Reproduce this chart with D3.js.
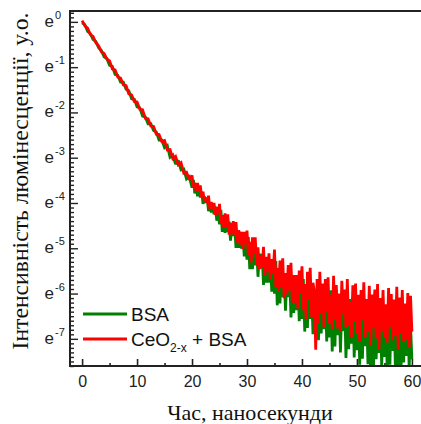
<!DOCTYPE html>
<html lang="uk">
<head>
  <meta charset="UTF-8">
  <title>Luminescence decay</title>
  <script src="https://d3js.org/d3.v7.min.js"></script>
  <style>
    body { margin: 0; background: #fff; }
    svg { display: block; }
  </style>
</head>
<body>
<div id="chart"></div>

<script>
// time grid, ns: every 0.5 ns up to 20 ns, then every 0.25 ns (noisy tail)
var timeNs = d3.range(0, 20, 0.5).concat(d3.range(20, 60.01, 0.25));

// ln(intensity), BSA
var lnBSA = [
  -0.02, -0.06, -0.21, -0.26, -0.39, -0.43, -0.57, -0.63, -0.77, -0.81,
  -0.96, -0.98, -1.16, -1.18, -1.33, -1.33, -1.49, -1.52, -1.70, -1.71,
  -1.88, -1.90, -2.08, -2.10, -2.25, -2.25, -2.40, -2.43, -2.61, -2.61,
  -2.78, -2.73, -2.99, -2.94, -3.14, -3.06, -3.27, -3.25, -3.47, -3.42,
  -3.66, -3.49, -3.79, -3.62,  -3.85, -3.64, -3.88, -3.75,
  -4.02, -3.85, -4.00, -3.89,  -4.18, -4.04, -4.21, -4.02,
  -4.25, -4.08, -4.39, -4.23,  -4.47, -4.15, -4.64, -4.32,
  -4.66, -4.27, -4.64, -4.41,  -4.83, -4.51, -4.73, -4.53,
  -4.99, -4.72, -4.99, -4.64,  -5.01, -4.69, -5.18, -4.90,
  -5.25, -4.75, -5.46, -4.96,  -5.46, -4.85, -5.38, -5.03,
  -5.63, -5.12, -5.45, -5.12,  -5.81, -5.37, -5.76, -5.23,
  -5.76, -5.25, -5.96, -5.53,  -6.00, -5.28, -6.26, -5.54,
  -6.22, -5.35, -6.08, -5.55,  -6.38, -5.66, -6.08, -5.61,
  -6.53, -5.90, -6.43, -5.65,  -6.37, -5.64, -6.61, -5.98,
  -6.56, -5.68, -6.84, -5.96,  -6.76, -5.70, -6.56, -5.92,
  -6.90, -6.02, -6.52, -5.93,  -7.03, -6.26, -6.88, -5.93,
  -6.79, -5.90, -7.06, -6.29,  -6.97, -5.93, -7.28, -6.24,
  -7.17, -5.92, -6.92, -6.16,  -7.30, -6.26, -6.83, -6.14,
  -7.42, -6.52, -7.23, -6.12,  -7.11, -6.07, -7.41, -6.51,
  -7.25, -6.13, -7.57, -6.45,  -7.44, -6.10, -7.16, -6.34,
  -7.56, -6.44, -7.79, -6.30,  -7.66, -6.69, -7.45, -6.25,
  -7.31, -6.18, -7.62, -6.64,  -7.40, -6.27, -7.70, -6.58,
  -7.57, -6.22, -7.27, -6.45,  -7.66, -6.53, -7.81, -6.39,
  -7.74, -6.76, -7.52, -6.32,  -7.38, -6.25, -7.68, -6.70,
  -7.45
];

// ln(intensity), CeO2-x + BSA
var lnCeO2BSA = [
   0.03, -0.09, -0.14, -0.28, -0.32, -0.46, -0.53, -0.66, -0.70, -0.82,
  -0.86, -1.04, -1.06, -1.22, -1.24, -1.39, -1.41, -1.59, -1.61, -1.76,
  -1.77, -1.93, -1.94, -2.13, -2.14, -2.30, -2.31, -2.48, -2.49, -2.64,
  -2.62, -2.83, -2.82, -3.02, -2.97, -3.16, -3.11, -3.34, -3.32, -3.49,
  -3.39, -3.64, -3.55, -3.75,  -3.56, -3.73, -3.61, -3.87,
  -3.75, -3.97, -3.88, -4.00,  -3.84, -4.13, -3.98, -4.14,
  -4.00, -4.26, -4.09, -4.25,  -4.02, -4.46, -4.27, -4.55,
  -4.23, -4.54, -4.25, -4.70,  -4.44, -4.69, -4.40, -4.70,
  -4.42, -4.87, -4.60, -4.92,  -4.64, -5.02, -4.64, -4.91,
  -4.61, -5.15, -4.86, -5.31,  -4.76, -5.11, -4.76, -5.37,
  -4.98, -5.46, -5.17, -5.42,  -4.97, -5.61, -5.19, -5.50,
  -5.11, -5.69, -5.24, -5.55,  -5.03, -5.86, -5.44, -5.96,
  -5.27, -5.87, -5.22, -6.10,  -5.55, -6.02, -5.37, -5.93,
  -5.32, -6.20, -5.59, -6.20,  -5.59, -6.33, -5.49, -6.01,
  -5.40, -6.37, -5.79, -6.58,  -5.52, -6.13, -5.43, -6.52,
  -5.76, -5.95, -7.24, -5.68,  -6.65, -5.52, -6.43, -5.78,
  -6.75, -5.68, -6.41, -5.64,  -6.67, -6.02, -6.80, -5.61,
  -6.58, -5.81, -6.77, -6.00,  -6.85, -5.72, -6.44, -5.91,
  -6.76, -5.68, -6.71, -6.17,  -6.96, -5.82, -6.61, -5.78,
  -6.87, -6.03, -7.06, -5.92,  -6.59, -5.75, -6.96, -6.12,
  -6.85, -5.83, -7.16, -6.02,  -6.75, -5.91, -6.99, -5.79,
  -7.24, -6.10, -6.82, -5.92,  -6.96, -6.24, -7.08, -5.88,
  -6.73, -6.01, -7.03, -6.13,  -6.93, -5.85, -7.23, -6.09,
  -6.88, -5.92, -7.06, -6.22,  -7.01, -5.99, -7.19, -6.05,
  -6.84
];

var xTicks = [0, 10, 20, 30, 40, 50, 60];
var yTicks = [0, -1, -2, -3, -4, -5, -6, -7];   // powers of e
var seriesNames = ["BSA", "CeO2-x + BSA"];
var seriesColors = ["#008000", "#ff0000"];

/* ====== SIZES ====== */
var W = 421, H = 424;
var mLeft = 70, mTop = 11, mRight = 424, mBottom = 366;

var svg = d3.select("#chart")
  .append("svg")
    .attr("width", W)
    .attr("height", H);

/* ====== SCALES ====== */
var x = d3.scaleLinear().domain([-2.2, 62.2]).range([mLeft, mRight]);
var y = d3.scaleLinear().domain([-7.6, 0.24]).range([mBottom, mTop]);

svg.append("clipPath").attr("id", "plotClip")
  .append("rect")
    .attr("x", mLeft).attr("y", mTop)
    .attr("width", mRight - mLeft).attr("height", mBottom - mTop);

/* ====== DATA LINES ====== */
var line = d3.line()
  .x(function(d) { return x(d[0]); })
  .y(function(d) { return y(d[1]); });

var plot = svg.append("g").attr("clip-path", "url(#plotClip)");

[lnBSA, lnCeO2BSA].forEach(function(vals, i) {
  plot.append("path")
    .datum(timeNs.map(function(t, j) { return [t, vals[j]]; }))
    .attr("fill", "none")
    .attr("stroke", seriesColors[i])
    .attr("stroke-width", 2.8)
    .attr("stroke-linejoin", "miter")
    .attr("stroke-miterlimit", 2)
    .attr("d", line);
});

/* ====== AXES ====== */
var axisColor = "#222";

// x axis, ticks pointing inward
var gx = svg.append("g").attr("transform", "translate(0," + mBottom + ")");
gx.append("g").call(d3.axisTop(x).tickValues(d3.range(5, 60, 10)).tickSize(3).tickFormat(""));
gx.append("g").call(d3.axisTop(x).tickValues(xTicks).tickSize(7).tickFormat(""));
gx.selectAll("path.domain").remove();
gx.selectAll("line").attr("stroke", axisColor).attr("stroke-width", 1.6);

svg.append("g")
  .attr("transform", "translate(0," + mBottom + ")")
  .call(d3.axisBottom(x).tickValues(xTicks).tickSize(0).tickPadding(10))
  .call(function(g) {
    g.select(".domain").remove();
    g.selectAll("text")
      .attr("fill", "#222")
      .style("font-family", "'Liberation Sans', Arial, sans-serif")
      .style("font-size", "16px");
  });

// y axis, ticks pointing inward
var minorY = d3.range(-76, 3).map(function(v) { return v / 10; })
  .filter(function(v) { return Math.abs(v - Math.round(v)) > 0.01; });

var gy = svg.append("g").attr("transform", "translate(" + mLeft + ",0)");
gy.append("g").call(d3.axisRight(y).tickValues(minorY).tickSize(4).tickFormat(""));
gy.append("g").call(d3.axisRight(y).tickValues(yTicks).tickSize(8).tickFormat(""));
gy.selectAll("path.domain").remove();
gy.selectAll("line").attr("stroke", axisColor).attr("stroke-width", 1.4);

// tick labels e^k
var ylab = svg.append("g")
  .style("font-family", "'Liberation Sans', Arial, sans-serif")
  .attr("fill", "#222");
yTicks.forEach(function(k) {
  ylab.append("text")
    .attr("x", 54)
    .attr("y", y(k) + 5)
    .attr("text-anchor", "end")
    .style("font-size", "17px")
    .text("e");
  ylab.append("text")
    .attr("x", 55)
    .attr("y", y(k) - 3)
    .style("font-size", "11px")
    .text(k === 0 ? "0" : "-" + Math.abs(k));
});

// frame lines
svg.append("line")
  .attr("x1", mLeft).attr("x2", W + 2)
  .attr("y1", mBottom).attr("y2", mBottom)
  .attr("stroke", axisColor).attr("stroke-width", 2);
svg.append("line")
  .attr("x1", mLeft).attr("x2", W + 2)
  .attr("y1", mTop).attr("y2", mTop)
  .attr("stroke", axisColor).attr("stroke-width", 2);
svg.append("line")
  .attr("x1", mLeft).attr("x2", mLeft)
  .attr("y1", mTop - 1).attr("y2", mBottom + 1)
  .attr("stroke", axisColor).attr("stroke-width", 2);

/* ====== AXIS TITLES ====== */
svg.append("text")
  .attr("x", 250)
  .attr("y", 420)
  .attr("text-anchor", "middle")
  .style("font-family", "'Liberation Serif', 'Times New Roman', serif")
  .style("font-size", "22px")
  .attr("fill", "#111")
  .text("Час, наносекунди");

svg.append("text")
  .attr("transform", "translate(28,181) rotate(-90)")
  .attr("text-anchor", "middle")
  .style("font-family", "'Liberation Serif', 'Times New Roman', serif")
  .style("font-size", "23px")
  .attr("fill", "#111")
  .attr("textLength", 337)
  .attr("lengthAdjust", "spacingAndGlyphs")
  .text("Інтенсивність люмінесценції, у.о.");

/* ====== LEGEND ====== */
var legendY = [314, 339];
var leg = svg.append("g")
  .style("font-family", "'Liberation Sans', Arial, sans-serif")
  .attr("fill", "#111");

seriesNames.forEach(function(name, i) {
  leg.append("line")
    .attr("x1", 83).attr("x2", 127)
    .attr("y1", legendY[i]).attr("y2", legendY[i])
    .attr("stroke", seriesColors[i])
    .attr("stroke-width", 3);
});

leg.append("text")
  .attr("x", 131).attr("y", legendY[0] + 7)
  .style("font-size", "19px")
  .text("BSA");

var t2 = leg.append("text")
  .attr("x", 131).attr("y", legendY[1] + 7)
  .style("font-size", "19px");
t2.append("tspan").text("CeO");
t2.append("tspan").attr("dy", 6).style("font-size", "12px").text("2-x");
t2.append("tspan").attr("dy", -6).text(" + BSA");
</script>
</body>
</html>
